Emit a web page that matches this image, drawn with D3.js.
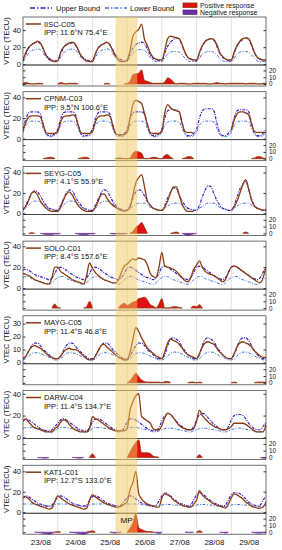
<!DOCTYPE html>
<html>
<head>
<meta charset="utf-8">
<script src="https://cdn.jsdelivr.net/npm/d3@7"></script>
<style>
  body { margin: 0; background: #fff; }
  svg { font-family: "Liberation Sans", Arial, sans-serif; }
</style>
</head>
<body>
<div id="chart"></div>
<script>
// VTEC, 2-hourly, 23/08 00 UT .. 30/08 00 UT (85 values, one row per day)
const stationNames = ["IISC-C05", "CPNM-C03", "SEYG-C05", "SOLO-C01", "MAYG-C05", "DARW-C04", "KAT1-C01"];
const ippLabels = ["IPP: 11.6°N 75.4°E", "IPP: 9.5°N 100.6°E", "IPP: 4.1°S 55.9°E", "IPP: 8.4°S 157.6°E",
                   "IPP: 11.4°S 46.8°E", "IPP: 11.4°S 134.7°E", "IPP: 12.7°S 133.0°E"];
const yMax = [55.5, 45.5, 46, 45, 36, 43, 46];
const yTicks = [[0, 20, 40], [0, 20, 40], [0, 20, 40], [0, 20, 40], [0, 10, 20, 30], [0, 20, 40], [0, 20, 40]];
const dayLabels = ["23/08", "24/08", "25/08", "26/08", "27/08", "28/08", "29/08"];
const subTicks = [0, 10, 20];

const iiscObs = [
  5, 14, 20, 23, 25, 27, 25, 18, 10, 6, 4, 3,
  4, 14, 20, 23, 25, 26, 24, 17, 10, 6, 4, 3,
  3, 12, 19, 22, 24, 26, 23, 16, 9, 5, 3, 3,
  5, 16, 33, 38, 41, 47, 29, 22, 13, 8, 6, 5,
  5, 16, 30, 33, 32, 31, 30, 23, 14, 8, 6, 5,
  5, 14, 22, 27, 29, 30, 29, 23, 14, 9, 6, 5,
  5, 14, 22, 27, 30, 31, 30, 23, 14, 8, 6, 5, 5];
const iiscUpper = [
  4, 12, 19, 23, 25, 26, 24, 18, 11, 7, 5, 4,
  4, 12, 19, 23, 24, 25, 23, 17, 11, 7, 5, 4,
  4, 12, 19, 23, 24, 25, 23, 17, 11, 7, 5, 4,
  4, 12, 19, 23, 25, 26, 24, 18, 11, 7, 5, 4,
  4, 13, 21, 26, 29, 31, 29, 22, 13, 8, 6, 4,
  4, 13, 21, 26, 29, 30, 28, 21, 13, 8, 6, 4,
  4, 13, 21, 26, 29, 31, 29, 22, 13, 8, 6, 4, 4];
const iiscLower = [
  3, 8, 13, 16, 17, 18, 17, 13, 8, 5, 3, 3,
  3, 8, 13, 16, 17, 18, 17, 13, 8, 5, 3, 3,
  3, 8, 13, 16, 17, 18, 17, 13, 8, 5, 3, 3,
  3, 8, 13, 16, 17, 17, 16, 13, 8, 5, 3, 3,
  3, 7, 12, 14, 15, 15, 14, 11, 7, 4, 3, 3,
  3, 7, 12, 14, 15, 15, 14, 11, 7, 4, 3, 3,
  3, 7, 12, 14, 15, 15, 14, 11, 7, 4, 3, 3, 3];

const cpnmObs = [
  8, 16, 21, 22, 22, 22, 21, 13, 6, 5, 5, 5,
  7, 16, 21, 22, 22, 23, 22, 14, 6, 5, 5, 5,
  7, 16, 21, 22, 22, 23, 22, 13, 5, 4, 4, 4,
  6, 20, 33, 37, 36, 34, 24, 14, 6, 5, 5, 5,
  7, 25, 33, 30, 28, 27, 26, 15, 7, 6, 6, 5,
  null, null, null, null, null, null, null, null, null, null, null, null,
  8, 18, 24, 26, 26, 25, 23, 14, 7, 6, 6, 6, 6];
const cpnmUpper = [
  9, 19, 25, 26, 26, 26, 24, 14, 5, 3, 3, 5,
  9, 19, 25, 26, 26, 26, 24, 14, 5, 3, 3, 5,
  9, 19, 25, 26, 26, 26, 24, 14, 5, 3, 3, 5,
  9, 19, 25, 26, 26, 26, 24, 14, 5, 3, 3, 5,
  9, 20, 27, 28, 28, 28, 26, 15, 6, 3, 3, 5,
  9, 20, 27, 29, 29, 29, 27, 15, 6, 3, 3, 5,
  9, 20, 27, 28, 28, 28, 26, 15, 6, 3, 3, 5, 9];
const cpnmLower = [
  6, 13, 16, 17, 17, 17, 16, 10, 4, 2, 2, 3,
  6, 13, 16, 17, 17, 17, 16, 10, 4, 2, 2, 3,
  6, 13, 16, 17, 17, 17, 16, 10, 4, 2, 2, 3,
  6, 13, 16, 17, 17, 17, 16, 10, 4, 2, 2, 3,
  6, 13, 16, 17, 17, 17, 16, 10, 4, 2, 2, 3,
  6, 13, 16, 17, 17, 17, 16, 10, 4, 2, 2, 3,
  6, 13, 16, 17, 17, 17, 16, 10, 4, 2, 2, 3, 6];

const seygObs = [
  4, 7, 13, 20, 21, 18, 12, 8, 5, 3, 2, 2,
  2, 6, 13, 19, 21, 18, 13, 8, 5, 3, 2, 2,
  2, 6, 12, 18, 19, 15, 11, 8, 6, 4, 3, 2,
  3, 6, 18, 30, 35, 38, 26, 12, 8, 5, 4, 3,
  3, 6, 12, 20, 26, 26, 18, 9, 4, 2, 2, 2,
  null, null, null, null, null, null, null, null, null, null, null, null,
  3, 6, 12, 20, 28, 33, 24, 13, 7, 5, 4, 3, 3];
const seygUpper = [
  4, 8, 14, 19, 22, 21, 17, 12, 8, 5, 4, 3,
  3, 8, 14, 20, 23, 22, 17, 12, 8, 5, 4, 3,
  3, 8, 14, 20, 23, 22, 17, 12, 8, 5, 4, 3,
  3, 8, 15, 21, 23, 22, 17, 12, 8, 5, 4, 3,
  3, 8, 15, 21, 25, 24, 18, 12, 8, 5, 4, 3,
  3, 8, 16, 23, 27, 26, 19, 13, 8, 5, 4, 3,
  3, 8, 16, 24, 29, 31, 24, 14, 8, 5, 4, 3, 4];
const seygLower = [
  3, 5, 8, 11, 12, 12, 11, 9, 7, 5, 4, 3,
  3, 5, 8, 11, 12, 12, 11, 9, 7, 5, 4, 3,
  3, 5, 8, 11, 12, 12, 11, 9, 7, 5, 4, 3,
  3, 5, 7, 9, 10, 10, 10, 8, 6, 5, 4, 3,
  3, 5, 7, 9, 10, 10, 10, 8, 6, 5, 4, 3,
  3, 5, 7, 9, 10, 10, 10, 8, 6, 5, 4, 3,
  3, 5, 7, 9, 10, 10, 10, 8, 6, 5, 4, 3, 3];

const soloObs = [
  14, 13, 12, 10, 8, 7, 6, 5, 4, 4, 10, 20,
  20, 16, 14, 12, 10, 8, 7, 6, 5, 4, 12, 24,
  19, 15, 12, 10, 8, 7, 6, 5, 5, 8, 15, 21,
  23, 26, 28, 27, 29, 28, 27, 22, 14, 11, 10, 20,
  34, 21, 20, 19, 18, 16, 13, 10, 7, 6, 10, 18,
  22, 26, 20, 16, 14, 13, 12, 10, 8, 6, 8, 15,
  20, 21, 20, 18, 16, 14, 12, 10, 8, 6, 5, 10, 20];
const soloUpper = [
  17, 18, 17, 15, 13, 12, 11, 10, 9, 8, 10, 14,
  19, 20, 19, 17, 15, 13, 11, 10, 9, 8, 10, 14,
  19, 20, 19, 17, 15, 13, 11, 10, 9, 8, 10, 14,
  19, 20, 19, 17, 15, 13, 11, 10, 9, 8, 10, 14,
  20, 21, 20, 18, 16, 14, 12, 10, 9, 8, 10, 15,
  20, 21, 20, 18, 16, 14, 12, 10, 9, 8, 10, 15,
  20, 21, 20, 18, 16, 14, 12, 10, 9, 8, 10, 15, 20];
const soloLower = [
  10, 11, 11, 9, 8, 7, 6, 5, 4, 3.5, 5, 8,
  10, 11, 11, 9, 8, 7, 6, 5, 4, 3.5, 5, 8,
  10, 11, 11, 9, 8, 7, 6, 5, 4, 3.5, 5, 8,
  10, 11, 11, 9, 8, 7, 6, 5, 4, 3.5, 5, 8,
  10, 11, 11, 9, 8, 7, 6, 5, 4, 3.5, 5, 8,
  10, 11, 11, 9, 8, 7, 6, 5, 4, 3.5, 5, 8,
  10, 11, 11, 9, 8, 7, 6, 5, 4, 3.5, 5, 8, 10];

const maygObs = [
  3, 5, 9, 12, 13, 12, 11, 9, 7, 5, 4, 3,
  3, 5, 8, 10, 11, 10, 10, 9, 7, 5, 3, 2,
  2, 5, 9, 13, 14, 12, 10, 8, 6, 4, 3, 2,
  2, 8, 18, 27, 24, 19, 15, 11, 9, 7, 5, 4,
  3, 8, 15, 18, 17, 16, 14, 11, 8, 6, 5, 4,
  3, 7, 12, 15, 16, 15, 14, 11, 8, 6, 4, 3,
  3, 7, 12, 15, 16, 15, 14, 12, 9, 7, 5, 4, 4];
const maygUpper = [
  3, 5, 9, 13, 15, 15, 13, 10, 8, 6, 4, 3,
  3, 5, 9, 13, 15, 15, 13, 10, 8, 6, 4, 3,
  3, 5, 9, 13, 15, 15, 13, 10, 8, 6, 4, 3,
  3, 5, 9, 13, 15, 15, 13, 10, 8, 6, 4, 3,
  3, 6, 13, 18, 19, 18, 16, 12, 9, 6, 4, 3,
  3, 6, 13, 18, 19, 18, 16, 12, 9, 6, 4, 3,
  3, 6, 12, 17, 19, 19, 17, 13, 9, 6, 4, 3, 3];
const maygLower = [
  2, 3, 5, 7, 7.5, 7.5, 7, 6, 5, 4, 3, 2,
  2, 3, 5, 7, 7.5, 7.5, 7, 6, 5, 4, 3, 2,
  2, 3, 5, 7, 7.5, 7.5, 7, 6, 5, 4, 3, 2,
  2, 3, 5, 7, 7.5, 7.5, 7, 6, 5, 4, 3, 2,
  2, 3, 5, 7, 8, 8, 7.5, 6.5, 5, 4, 3, 2,
  2, 3, 5, 7, 8, 8, 7.5, 6.5, 5, 4, 3, 2,
  2, 3, 5, 7, 8, 8, 7.5, 6.5, 5, 4, 3, 2, 2];

const darwObs = [
  15, 17, 14, 11, 9, 8, 7, 6, 5, 5, 5, 8,
  10, 14, 16, 15, 12, 9, 7, 6, 5, 5, 5, 8,
  19, 17, 16, 14, 12, 10, 8, 7, 6, 6, 6, 6,
  8, 25, 33, 38, 40, 19, 17, 15, 13, 8, 7, 7,
  11, 18, 22, 21, 18, 14, 11, 9, 8, 7, 7, 8,
  15, 25, 20, 17, 14, 12, 10, 9, 8, 7, 7, 8,
  10, 13, 13, 13, 13, 12, 10, 8, 6, 5, 5, 5, 12];
const darwUpper = [
  15, 17, 16, 14, 12, 10, 8, 7, 6, 6, 7, 10,
  13, 16, 17, 16, 14, 12, 10, 8, 7, 6, 6, 9,
  14, 17, 17, 16, 14, 12, 10, 8, 7, 6, 6, 9,
  14, 17, 17, 16, 14, 12, 10, 8, 7, 6, 6, 9,
  15, 20, 22, 21, 18, 15, 12, 10, 8, 7, 7, 10,
  16, 21, 22, 21, 18, 15, 12, 10, 8, 7, 7, 10,
  16, 20, 21, 21, 20, 17, 13, 10, 8, 7, 7, 10, 14];
const darwLower = [
  8, 9, 9, 9, 8.5, 8, 7.5, 7, 6, 5, 5, 6,
  8, 9, 9, 9, 8.5, 8, 7.5, 7, 6, 5, 5, 6,
  8, 9, 9, 9, 8.5, 8, 7.5, 7, 6, 5, 5, 6,
  8, 9, 9, 9, 8.5, 8, 7.5, 7, 6, 5, 5, 6,
  7, 8, 8.5, 8.5, 8, 7.5, 7, 6.5, 6, 5, 5, 6,
  7, 8, 8.5, 8.5, 8, 7.5, 7, 6.5, 6, 5, 5, 6,
  7, 8, 8.5, 8.5, 8, 7.5, 7, 6.5, 6, 5, 5, 6, 7];

const kat1Obs = [
  14, 15, 13, 10, 8, 7, 6, 5, 4, 3, 4, 10,
  16, 14, 12, 10, 8, 7, 6, 5, 4, 3, 4, 12,
  17, 15, 13, 11, 9, 8, 7, 6, 5, 5, 6, 8,
  10, 22, 29, 40, 18, 13, 10, 8, 7, 6, 5, 5,
  14, 18, 17, 15, 12, 10, 8, 7, 6, 5, 5, 8,
  12, 21, 17, 14, 12, 10, 8, 7, 6, 5, 4, 8,
  14, 18, 17, 15, 13, 10, 8, 6, 5, 4, 4, 5, 10];
const kat1Upper = [
  14, 16, 15, 13, 11, 9, 8, 7, 6, 6, 7, 11,
  15, 16, 15, 13, 11, 9, 8, 7, 6, 6, 7, 11,
  15, 16, 15, 13, 11, 9, 8, 7, 6, 6, 7, 11,
  14, 16, 15, 13, 11, 9, 8, 7, 6, 6, 7, 11,
  16, 19, 18, 16, 13, 11, 9, 8, 7, 6, 7, 12,
  17, 19, 18, 16, 13, 11, 9, 8, 7, 6, 7, 12,
  17, 19, 19, 18, 16, 13, 10, 8, 7, 6, 7, 12, 15];
const kat1Lower = [
  8, 8, 8, 8, 8, 7.5, 7, 7, 6.5, 6, 6, 7,
  8, 8, 8, 8, 8, 7.5, 7, 7, 6.5, 6, 6, 7,
  8, 8, 8, 8, 8, 7.5, 7, 7, 6.5, 6, 6, 7,
  8, 8, 8, 8, 8, 7.5, 7, 7, 6.5, 6, 6, 7,
  7, 7.5, 7.5, 7.5, 7, 7, 6.5, 6, 6, 5.5, 5.5, 6,
  7, 7.5, 7.5, 7.5, 7, 7, 6.5, 6, 6, 5.5, 5.5, 6,
  7, 7.5, 7.5, 7.5, 7, 7, 6.5, 6, 6, 5.5, 5.5, 6, 7];

// main phase of the storm (shaded band)
const mpStart = Date.UTC(2015, 7, 25, 16);
const mpEnd = Date.UTC(2015, 7, 26, 7);

const obsList = [iiscObs, cpnmObs, seygObs, soloObs, maygObs, darwObs, kat1Obs];
const upperList = [iiscUpper, cpnmUpper, seygUpper, soloUpper, maygUpper, darwUpper, kat1Upper];
const lowerList = [iiscLower, cpnmLower, seygLower, soloLower, maygLower, darwLower, kat1Lower];

document.addEventListener("DOMContentLoaded", function () {
    const W = 282, H = 550;
    const left = 23, right = 266;
    const firstTop = 17, pitch = 74.7, mainH = 48, subH = 21;

    const colObs = "#8b3a0e", colUp = "#3a1fc8", colLow = "#3f74dd";
    const colPos = "#e01010", colNeg = "#7030a0";

    const t0 = Date.UTC(2015, 7, 23);
    const times = d3.range(85).map(i => new Date(t0 + i * 2 * 3600e3));

    const svg = d3.select("#chart").append("svg")
        .attr("width", W).attr("height", H);

    const x = d3.scaleUtc()
        .domain([new Date(t0), new Date(Date.UTC(2015, 7, 30))])
        .range([left, right]);
    const dayTicks = d3.utcDay.range(new Date(Date.UTC(2015, 7, 24)), new Date(Date.UTC(2015, 7, 30)));

    //legend on top
    const lg = svg.append("g").attr("font-size", 7.5).attr("fill", "#111");
    lg.append("line").attr("x1", 30).attr("x2", 52).attr("y1", 8).attr("y2", 8)
        .attr("stroke", colUp).attr("stroke-width", 1.6).attr("stroke-dasharray", "5,2,1.5,2");
    lg.append("text").attr("x", 56).attr("y", 10.5).text("Upper Bound");
    lg.append("line").attr("x1", 105).attr("x2", 127).attr("y1", 8).attr("y2", 8)
        .attr("stroke", colLow).attr("stroke-width", 1.4).attr("stroke-dasharray", "4,2,1.5,2");
    lg.append("text").attr("x", 130).attr("y", 10.5).text("Lower Bound");
    lg.append("rect").attr("x", 183).attr("y", 3).attr("width", 14).attr("height", 4.5)
        .attr("fill", colPos).attr("stroke", colObs).attr("stroke-width", 0.8);
    lg.append("text").attr("x", 200).attr("y", 7.6).attr("font-size", 6.9).text("Positive response");
    lg.append("rect").attr("x", 183).attr("y", 10).attr("width", 14).attr("height", 4.5)
        .attr("fill", colNeg).attr("stroke", "#4a1a78").attr("stroke-width", 0.6);
    lg.append("text").attr("x", 200).attr("y", 15.2).attr("font-size", 6.9).text("Negative response");

    stationNames.forEach((name, k) => {
        const top = firstTop + k * pitch;
        const obs = obsList[k], upper = upperList[k], lower = lowerList[k];
        const g = svg.append("g");

        const y = d3.scaleLinear().domain([-1, yMax[k]]).range([top + mainH, top]);
        const ys = d3.scaleLinear().domain([-3, 28]).range([top + mainH + subH, top + mainH]);

        //grid at day boundaries
        g.selectAll(".grid").data(dayTicks).join("line")
            .attr("x1", d => x(d)).attr("x2", d => x(d))
            .attr("y1", top).attr("y2", top + mainH + subH)
            .attr("stroke", "#cfcfcf").attr("stroke-width", 0.6);

        const clipId = "clip" + k;
        svg.append("clipPath").attr("id", clipId).append("rect")
            .attr("x", left).attr("y", top).attr("width", right - left).attr("height", mainH);

        const line = arr => d3.line()
            .defined((d, i) => arr[i] != null)
            .x((d, i) => x(times[i]))
            .y((d, i) => y(arr[i]))
            .curve(d3.curveMonotoneX)(arr);

        const lines = g.append("g").attr("clip-path", `url(#${clipId})`).attr("fill", "none");
        lines.append("path").attr("d", line(lower))
            .attr("stroke", colLow).attr("stroke-width", 1).attr("stroke-dasharray", "3,1.5,1,1.5");
        lines.append("path").attr("d", line(upper))
            .attr("stroke", colUp).attr("stroke-width", 1.2).attr("stroke-dasharray", "3,1.2,1,1.2");
        lines.append("path").attr("d", line(obs))
            .attr("stroke", colObs).attr("stroke-width", 1.3);

        //responses in lower panel, drawn only around non-zero stretches
        const pos = obs.map((v, i) => v == null ? 0 : Math.max(0, v - upper[i]));
        const neg = obs.map((v, i) => v == null ? 0 : Math.min(0, v - lower[i]));
        const area = arr => d3.area()
            .defined((d, i) => arr[i] !== 0 || (arr[i - 1] || 0) !== 0 || (arr[i + 1] || 0) !== 0)
            .x((d, i) => x(times[i]))
            .y0(ys(0))
            .y1((d, i) => ys(arr[i]))
            .curve(d3.curveMonotoneX)(arr);
        g.append("path").attr("d", area(pos))
            .attr("fill", colPos).attr("stroke", colObs).attr("stroke-width", 0.8);
        g.append("path").attr("d", area(neg))
            .attr("fill", colNeg).attr("stroke", colNeg).attr("stroke-width", 0.6);

        //frames
        g.append("rect").attr("x", left).attr("y", top).attr("width", right - left).attr("height", mainH)
            .attr("fill", "none").attr("stroke", "#333").attr("stroke-width", 0.7);
        g.append("rect").attr("x", left).attr("y", top + mainH).attr("width", right - left).attr("height", subH)
            .attr("fill", "none").attr("stroke", "#333").attr("stroke-width", 0.7);

        //axes
        const yAxisG = g.append("g").attr("transform", `translate(${left},0)`)
            .call(d3.axisLeft(y).tickValues(yTicks[k]).tickSize(-2.5).tickPadding(2));
        yAxisG.select(".domain").remove();
        yAxisG.selectAll("text").attr("font-size", 7.5).attr("fill", "#111");
        yAxisG.selectAll("line").attr("stroke", "#333");

        const yRightG = g.append("g").attr("transform", `translate(${right},0)`)
            .call(d3.axisRight(y).tickValues(yTicks[k]).tickSize(-2.5).tickFormat(""));
        yRightG.select(".domain").remove();
        yRightG.selectAll("line").attr("stroke", "#333");

        const sRightG = g.append("g").attr("transform", `translate(${right},0)`)
            .call(d3.axisRight(ys).tickValues(subTicks).tickSize(-2.5).tickPadding(3));
        sRightG.select(".domain").remove();
        sRightG.selectAll("text").attr("font-size", 6.3).attr("fill", "#111");
        sRightG.selectAll("line").attr("stroke", "#333");

        const sLeftG = g.append("g").attr("transform", `translate(${left},0)`)
            .call(d3.axisLeft(ys).tickValues(subTicks).tickSize(-2.5).tickFormat(""));
        sLeftG.select(".domain").remove();
        sLeftG.selectAll("line").attr("stroke", "#333");

        //axis label
        g.append("text")
            .attr("transform", `translate(9,${top + mainH / 2}) rotate(-90)`)
            .attr("text-anchor", "middle").attr("font-size", 7.5).attr("fill", "#111")
            .text("VTEC  (TECU)");

        //station legend
        g.append("line").attr("x1", 26).attr("x2", 41).attr("y1", top + 7).attr("y2", top + 7)
            .attr("stroke", colObs).attr("stroke-width", 1.5);
        g.append("text").attr("x", 44).attr("y", top + 9.5)
            .attr("font-size", 7.5).attr("fill", "#111").text(name);
        g.append("text").attr("x", 44).attr("y", top + 18)
            .attr("font-size", 7.5).attr("fill", "#111").text(ippLabels[k]);
    });

    const bottom = firstTop + 6 * pitch + mainH + subH;

    //main phase band on top of everything
    svg.append("rect")
        .attr("x", x(new Date(mpStart))).attr("y", firstTop)
        .attr("width", x(new Date(mpEnd)) - x(new Date(mpStart)))
        .attr("height", bottom - firstTop)
        .attr("fill", "#f2c55c").attr("opacity", 0.5);
    svg.append("text").attr("x", x(new Date(mpStart)) + 5).attr("y", bottom - 11)
        .attr("font-size", 8).attr("fill", "#111").text("MP");

    //date labels at noon
    const xAxisG = svg.append("g").attr("transform", `translate(0,${bottom})`)
        .call(d3.axisBottom(x)
            .tickValues(dayLabels.map((d, i) => new Date(t0 + (i + 0.5) * 86400e3)))
            .tickFormat((d, i) => dayLabels[i])
            .tickSize(0).tickPadding(5));
    xAxisG.select(".domain").remove();
    xAxisG.selectAll("text").attr("font-size", 8).attr("fill", "#111");
});
</script>
</body>
</html>
